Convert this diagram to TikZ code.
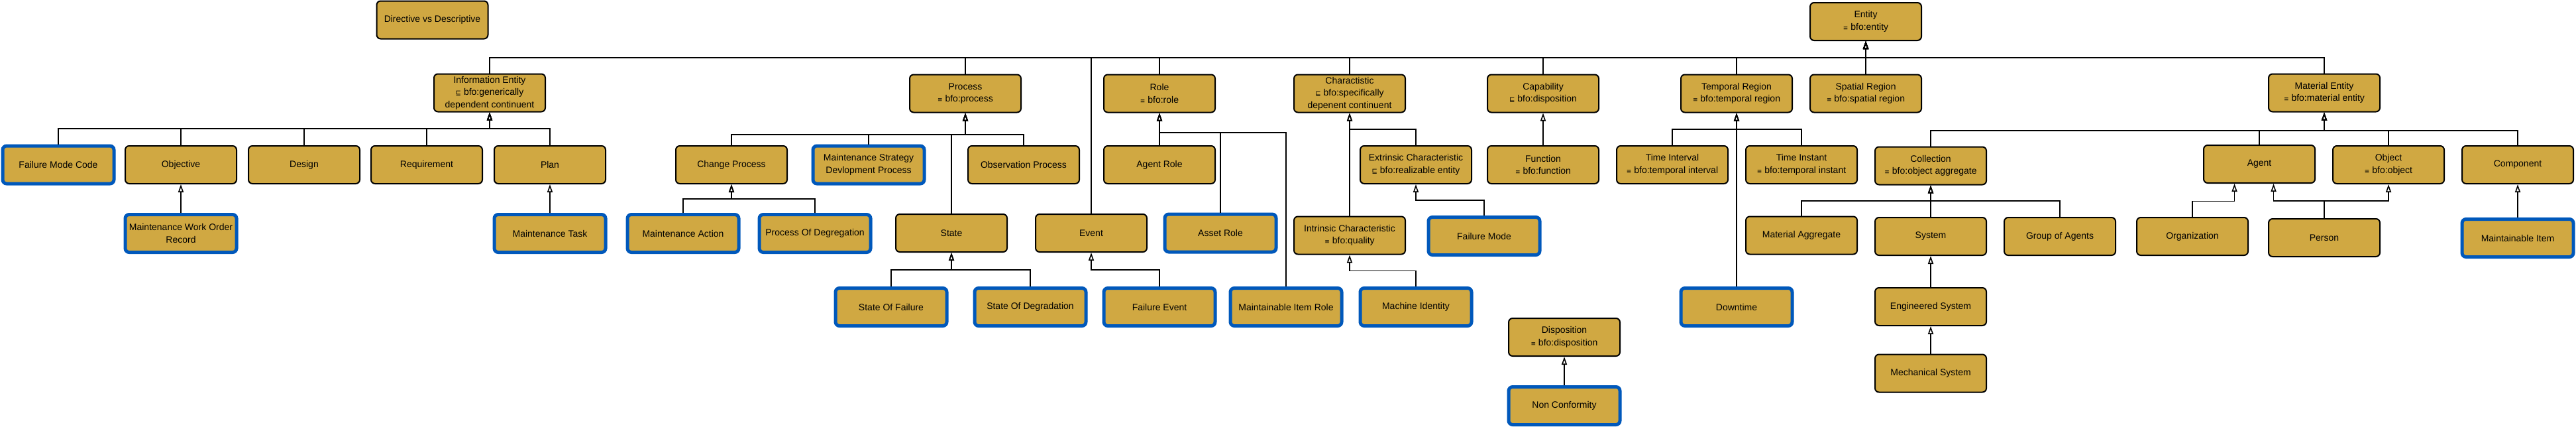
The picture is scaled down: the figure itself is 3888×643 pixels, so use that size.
\documentclass[tikz,border=0pt]{standalone}
\usepackage{fontspec}
\setmainfont{Liberation Sans}
\newfontfamily\symfont{DejaVu Sans}
\usetikzlibrary{arrows.meta}
\definecolor{boxgold}{RGB}{208,168,66}
\definecolor{boxblue}{RGB}{0,88,187}
\newcommand{\eqsym}{{\symfont\fontsize{9pt}{9pt}\selectfont ≡}}
\newcommand{\subsym}{{\symfont\fontsize{10pt}{10pt}\selectfont ⊑}}
\begin{document}
\begin{tikzpicture}[x=1pt,y=-1pt,
  box/.style={draw=black, line width=2pt, fill=boxgold, rounded corners=6pt,
    minimum width=168pt, minimum height=57pt, align=center, inner sep=3pt,
    font=\fontsize{14pt}{18.5pt}\selectfont},
  bluebox/.style={box, draw=boxblue, line width=5pt},
  arr/.style={line width=1.8pt, -{Triangle[open, length=12pt, width=8pt, line width=1.6pt]}}]
\useasboundingbox[fill=white] (0,0) rectangle (3888,643);

% row 0
\node[box] (dvd) at (652.5,30) {Directive vs Descriptive};
\node[box] (entity) at (2816,32.5) {Entity\\\eqsym\ bfo:entity};
% row 1
\node[box] (info) at (739,140) {Information Entity\\\subsym\ bfo:generically\\dependent continuent};
\node[box] (process) at (1457,141) {Process\\\eqsym\ bfo:process};
\node[box] (role) at (1750,141) {Role\\\eqsym\ bfo:role};
\node[box] (charac) at (2037,141) {Charactistic\\\subsym\ bfo:specifically\\depenent continuent};
\node[box] (capab) at (2329,141) {Capability\\\subsym\ bfo:disposition};
\node[box] (temporal) at (2621,141) {Temporal Region\\\eqsym\ bfo:temporal region};
\node[box] (spatial) at (2816,141) {Spatial Region\\\eqsym\ bfo:spatial region};
\node[box] (material) at (3508,140) {Material Entity\\\eqsym\ bfo:material entity};
% row 2
\node[bluebox] (fmc) at (88,248.5) {Failure Mode Code};
\node[box] (objective) at (273,248.5) {Objective};
\node[box] (design) at (459,248.5) {Design};
\node[box] (requirement) at (644,248.5) {Requirement};
\node[box] (plan) at (830,248.5) {Plan};
\node[box] (change) at (1104,248.5) {Change Process};
\node[bluebox] (msdp) at (1311,248.5) {Maintenance Strategy\\Devlopment Process};
\node[box] (obs) at (1545,248.5) {Observation Process};
\node[box] (agentrole) at (1750,248.5) {Agent Role};
\node[box] (extrinsic) at (2137,248.5) {Extrinsic Characteristic\\\subsym\ bfo:realizable entity};
\node[box] (function) at (2329,248.5) {Function\\\eqsym\ bfo:function};
\node[box] (interval) at (2524,248.5) {Time Interval\\\eqsym\ bfo:temporal interval};
\node[box] (instant) at (2719,248.5) {Time Instant\\\eqsym\ bfo:temporal instant};
\node[box] (collection) at (2914,250) {Collection\\\eqsym\ bfo:object aggregate};
\node[box] (agent) at (3410,247.5) {Agent};
\node[box] (object) at (3605,248.5) {Object\\\eqsym\ bfo:object};
\node[box] (component) at (3800,248.5) {Component};
% row 3
\node[bluebox] (mwo) at (273,352) {Maintenance Work Order\\Record};
\node[bluebox] (mtask) at (830,352) {Maintenance Task};
\node[bluebox] (maction) at (1031,352) {Maintenance Action};
\node[bluebox] (pod) at (1230,352) {Process Of Degregation};
\node[box] (state) at (1436,351.5) {State};
\node[box] (event) at (1647,351.5) {Event};
\node[bluebox] (assetrole) at (1842,351.5) {Asset Role};
\node[box] (intrinsic) at (2037,355) {Intrinsic Characteristic\\\eqsym\ bfo:quality};
\node[bluebox] (failmode) at (2240,356) {Failure Mode};
\node[box] (matagg) at (2719,355) {Material Aggregate};
\node[box] (system) at (2914,356.5) {System};
\node[box] (groupag) at (3109,356.5) {Group of Agents};
\node[box] (org) at (3309,356.5) {Organization};
\node[box] (person) at (3508,358.5) {Person};
\node[bluebox] (mitem) at (3800,359) {Maintainable Item};
% row 4
\node[bluebox] (sof) at (1345,463) {State Of Failure};
\node[bluebox] (sod) at (1555,463) {State Of Degradation};
\node[bluebox] (failevent) at (1750,463) {Failure Event};
\node[bluebox] (mirole) at (1941,463) {Maintainable Item Role};
\node[bluebox] (machid) at (2137,463) {Machine Identity};
\node[bluebox] (downtime) at (2621,463) {Downtime};
\node[box] (engsys) at (2914,462.5) {Engineered System};
% row 5
\node[box] (disposition) at (2361,508.5) {Disposition\\\eqsym\ bfo:disposition};
\node[box] (mechsys) at (2914,563) {Mechanical System};
\node[bluebox] (nonconf) at (2361,612) {Non Conformity};

% bars
\coordinate (ebar) at (2816,87);
\coordinate (ibar) at (739,194);
\coordinate (pbar) at (1457,203);
\coordinate (cbar) at (1104,300);
\coordinate (rbar) at (1750,200);
\coordinate (sbar) at (1436,407);
\coordinate (evbar) at (1647,407);
\coordinate (chbar) at (2037,195);
\coordinate (exbar) at (2137,302);
\coordinate (inbar) at (2037,408.5);
\coordinate (tbar) at (2621,195);
\coordinate (mbar) at (3508,197);
\coordinate (colbar) at (2914,303);
\coordinate (orgbar) at (3372.5,303.5);
\coordinate (perbar) at (3508,303);

\foreach \c in {info,process,event,role,charac,capab,temporal,spatial,material}
  \draw[arr] (\c.north) |- (ebar) -- (entity.south);
\foreach \c in {fmc,objective,design,requirement,plan}
  \draw[arr] (\c.north) |- (ibar) -- (info.south);
\draw[arr] (mwo.north) -- (objective.south);
\draw[arr] (mtask.north) -- (plan.south);
\foreach \c in {change,msdp,state,obs}
  \draw[arr] (\c.north) |- (pbar) -- (process.south);
\foreach \c in {maction,pod}
  \draw[arr] (\c.north) |- (cbar) -- (change.south);
\draw[arr] (agentrole.north) -- (role.south);
\foreach \c in {assetrole,mirole}
  \draw[arr] (\c.north) |- (rbar) -- (role.south);
\foreach \c in {sof,sod}
  \draw[arr] (\c.north) |- (sbar) -- (state.south);
\draw[arr] (failevent.north) |- (evbar) -- (event.south);
\draw[arr] (intrinsic.north) -- (charac.south);
\draw[arr] (extrinsic.north) |- (chbar) -- (charac.south);
\draw[arr] (failmode.north) |- (exbar) -- (extrinsic.south);
\draw[arr] (machid.north) |- (inbar) -- (intrinsic.south);
\draw[arr] (function.north) -- (capab.south);
\foreach \c in {interval,instant}
  \draw[arr] (\c.north) |- (tbar) -- (temporal.south);
\draw[arr] (downtime.north) -- (temporal.south);
\draw[arr] (nonconf.north) -- (disposition.south);
\foreach \c in {collection,agent,object,component}
  \draw[arr] (\c.north) |- (mbar) -- (material.south);
\foreach \c in {matagg,system,groupag}
  \draw[arr] (\c.north) |- (colbar) -- (collection.south);
\draw[arr] (engsys.north) -- (system.south);
\draw[arr] (mechsys.north) -- (engsys.south);
\draw[arr] (org.north) |- (orgbar) -- ([xshift=-37.5pt]agent.south);
\draw[arr] (person.north) -- (perbar) -| ([xshift=21.5pt]agent.south);
\draw[arr] (person.north) -- (perbar) -| (object.south);
\draw[arr] (mitem.north) -- (component.south);
\end{tikzpicture}
\end{document}
